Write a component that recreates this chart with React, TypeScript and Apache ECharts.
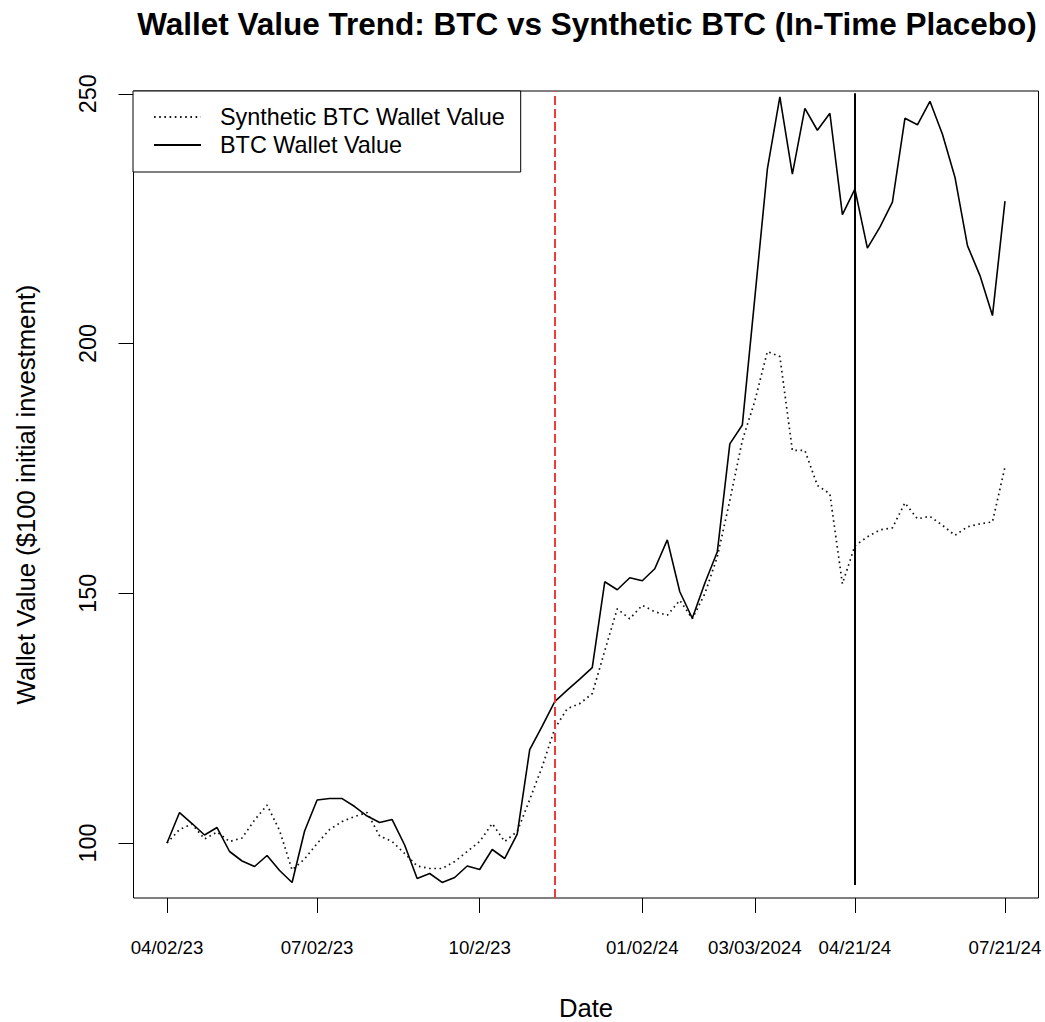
import React, { useEffect, useRef } from "react";
import * as echarts from "echarts";

// Weekly wallet values (index 0 = 04/02/23 ... index 67 = 07/21/24)
const btcValues = [
  100, 106.1, 103.9, 101.6, 103.1, 98.3, 96.4, 95.3, 97.5, 94.5,
  92.1, 102.4, 108.6, 108.9, 108.9, 107.3, 105.4, 104.1, 104.7, 99.6,
  92.9, 93.9, 92.1, 93.1, 95.4, 94.7, 98.7, 96.9, 101.8, 118.7,
  123.4, 128.3, 130.6, 132.8, 135.1, 152.3, 150.7, 153.1, 152.5, 154.9,
  160.7, 150.3, 145.0, 152.0, 158.3, 179.9, 183.7, 209.2, 234.9, 249.4,
  233.9, 247.1, 242.7, 246.1, 225.8, 230.9, 219.1, 223.3, 228.3, 245.1,
  243.8, 248.5, 241.9, 233.3, 219.6, 213.6, 205.6, 228.5,
];

const syntheticValues = [
  100, 102.7, 103.8, 100.8, 102.2, 100.3, 101.0, 104.6, 107.6, 102.5,
  94.6, 96.8, 99.9, 102.7, 104.3, 105.3, 106.1, 101.4, 100.3, 97.9,
  95.4, 94.9, 94.9, 96.3, 98.3, 100.3, 103.9, 100.3, 102.3, 108.7,
  115.3, 122.9, 126.9, 127.9, 129.9, 138.5, 146.9, 144.9, 147.6, 146.3,
  145.6, 148.6, 144.9, 149.9, 157.3, 168.6, 180.6, 188.5, 198.4, 197.4,
  178.6, 178.6, 171.6, 169.9, 151.9, 159.5, 161.3, 162.7, 163.1, 168.1,
  164.9, 165.4, 163.6, 161.6, 163.3, 163.9, 164.3, 175.3,
];

const tickIndices = [0, 12, 25, 38, 47, 55, 67];
const tickLabels = ["04/02/23", "07/02/23", "10/2/23", "01/02/24", "03/03/2024", "04/21/24", "07/21/24"];
const yTicks = [100, 150, 200, 250];
const placeboIndex = 31;
const treatmentIndex = 55;
const treatmentSpan = [91.6, 250.1];
const yRange = [88.99, 250.56];

const seriesNames = ["Synthetic BTC Wallet Value", "BTC Wallet Value"];

export default function App() {
  const ref = useRef<HTMLDivElement>(null);

  useEffect(() => {
    if (!ref.current) return;
    const chart = echarts.init(ref.current, null, { renderer: "svg" });
    const FONT = "'Liberation Sans', Arial, Helvetica, sans-serif";
    const n = btcValues.length;
    const pad = (n - 1) * 0.04;

    chart.setOption({
      animation: false,
      backgroundColor: "#ffffff",
      textStyle: { fontFamily: FONT },
      title: {
        text: "Wallet Value Trend: BTC vs Synthetic BTC (In-Time Placebo)",
        left: 587,
        top: 8,
        padding: 0,
        textAlign: "center",
        textStyle: { fontSize: 31.5, fontWeight: "bold", color: "#000", fontFamily: FONT },
      },
      legend: {
        orient: "vertical",
        left: 133,
        top: 91,
        padding: [12, 16, 13, 20],
        itemGap: 0,
        itemWidth: 47,
        itemHeight: 14,
        borderColor: "#000",
        borderWidth: 1,
        backgroundColor: "#fff",
        selectedMode: false,
        data: seriesNames,
        itemStyle: { color: "transparent", borderColor: "transparent", borderWidth: 0, opacity: 0 },
        textStyle: {
          fontSize: 23.4,
          color: "#000",
          lineHeight: 28,
          padding: [0, 0, 0, 14],
          fontFamily: FONT,
        },
      },
      grid: {
        left: 133.5,
        top: 91,
        width: 905,
        height: 807,
        show: true,
        borderColor: "#000",
        borderWidth: 1,
        backgroundColor: "transparent",
        containLabel: false,
        outerBoundsMode: "none",
      },
      xAxis: {
        type: "value",
        min: -pad,
        max: n - 1 + pad,
        name: "Date",
        nameLocation: "middle",
        nameGap: 97,
        nameTextStyle: { fontSize: 25.7, color: "#000", fontFamily: FONT },
        axisLine: { show: false, onZero: false },
        splitLine: { show: false },
        axisTick: {
          show: true,
          length: 15,
          customValues: tickIndices,
          lineStyle: { color: "#000", width: 1 },
        },
        axisLabel: {
          customValues: tickIndices,
          formatter: (v: number) => {
            const k = tickIndices.indexOf(Math.round(v));
            return k >= 0 ? tickLabels[k] : "";
          },
          fontSize: 18.7,
          color: "#000",
          margin: 40,
          fontFamily: FONT,
        },
      },
      yAxis: {
        type: "value",
        min: yRange[0],
        max: yRange[1],
        name: "Wallet Value ($100 initial investment)",
        nameLocation: "middle",
        nameGap: 94.6,
        nameTextStyle: { fontSize: 25.7, color: "#000", fontFamily: FONT },
        axisLine: { show: false, onZero: false },
        splitLine: { show: false },
        axisTick: {
          show: true,
          length: 15,
          customValues: yTicks,
          lineStyle: { color: "#000", width: 1 },
        },
        axisLabel: {
          customValues: yTicks,
          rotate: 90,
          fontSize: 23.4,
          color: "#000",
          margin: 34,
          fontFamily: FONT,
        },
      },
      series: [
        {
          name: seriesNames[0],
          type: "line",
          data: syntheticValues.map((v, i) => [i, v]),
          symbol: "none",
          showSymbol: false,
          silent: true,
          emphasis: { disabled: true },
          itemStyle: { color: "#111" },
          lineStyle: { color: "#111", width: 1.7, type: [1.6, 3.6], cap: "butt" },
          markLine: {
            silent: true,
            symbol: ["none", "none"],
            label: { show: false },
            emphasis: { disabled: true },
            lineStyle: { color: "#EE3B3B", type: [9, 4], width: 2 },
            data: [{ xAxis: placeboIndex }],
          },
          z: 2,
        },
        {
          name: seriesNames[1],
          type: "line",
          data: btcValues.map((v, i) => [i, v]),
          symbol: "none",
          showSymbol: false,
          silent: true,
          emphasis: { disabled: true },
          itemStyle: { color: "#000" },
          lineStyle: { color: "#000", width: 1.6, type: "solid" },
          markLine: {
            silent: true,
            symbol: ["none", "none"],
            label: { show: false },
            emphasis: { disabled: true },
            lineStyle: { color: "#000", type: "solid", width: 2 },
            data: [
              [
                { coord: [treatmentIndex, treatmentSpan[0]] },
                { coord: [treatmentIndex, treatmentSpan[1]] },
              ],
            ],
          },
          z: 3,
        },
      ],
    });

    return () => chart.dispose();
  }, []);

  return (
    <div
      ref={ref}
      style={{ position: "absolute", left: 0, top: 0, width: 1045, height: 1022 }}
    />
  );
}
